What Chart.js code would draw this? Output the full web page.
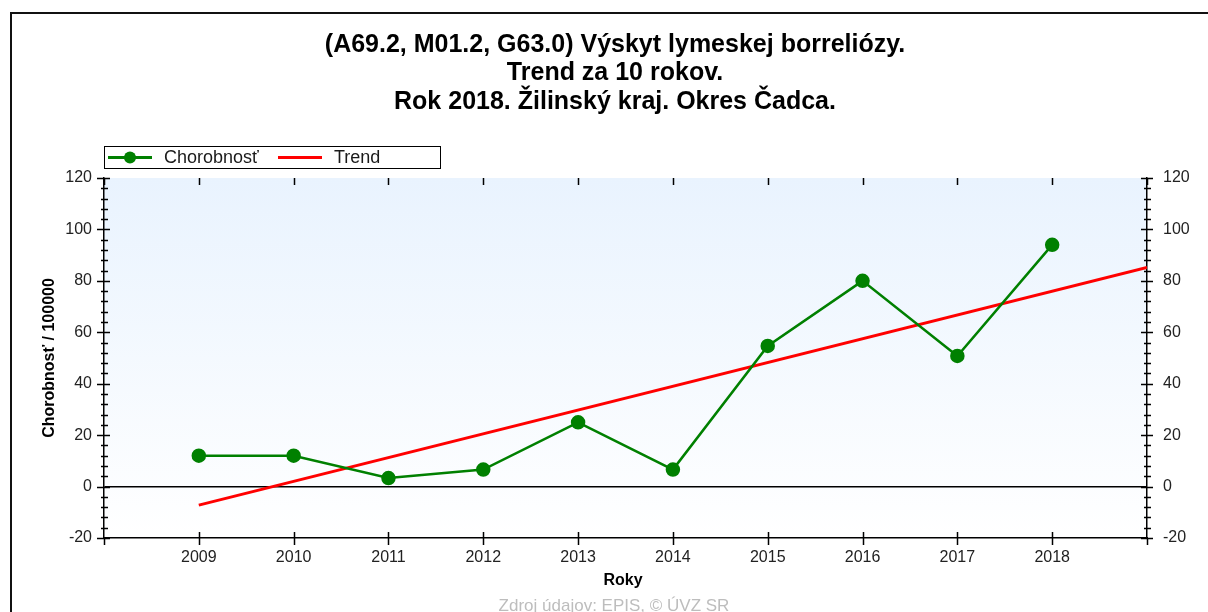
<!DOCTYPE html>
<html>
<head>
<meta charset="utf-8">
<script src="https://cdn.jsdelivr.net/npm/chart.js@4"></script>
<style>
  html, body { margin: 0; padding: 0; background: #fff; }
  #wrap { width: 1208px; height: 612px; position: relative; }
</style>
</head>
<body>
<div id="wrap"><canvas id="chart" width="1208" height="612"></canvas></div>
<script>
// ─────────────────────────────────────────────
// DATA
// ─────────────────────────────────────────────
const years       = [2009, 2010, 2011, 2012, 2013, 2014, 2015, 2016, 2017, 2018];
const morbidity   = [12, 12, 3.3, 6.6, 25, 6.6, 54.7, 80, 50.8, 94];
const trendYears  = [2009, 2019];
const trendValues = [-7.2, 85.2];

const titleLines = [
  '(A69.2, M01.2, G63.0) Výskyt lymeskej borreliózy.',
  'Trend za 10 rokov.',
  'Rok 2018. Žilinský kraj. Okres Čadca.'
];
const FONT = '"Liberation Sans", Arial, sans-serif';

// ─────────────────────────────────────────────
// PLUGINS (frame, title, legend, ticks, footer)
// ─────────────────────────────────────────────
const decor = {
  id: 'decor',
  beforeDraw(chart) {
    const { ctx, chartArea: a } = chart;
    ctx.save();
    ctx.fillStyle = '#fff';
    ctx.fillRect(0, 0, chart.width, chart.height);
    // frame
    ctx.strokeStyle = '#111';
    ctx.lineWidth = 2;
    ctx.beginPath();
    ctx.moveTo(11, chart.height + 2);
    ctx.lineTo(11, 13);
    ctx.lineTo(chart.width + 2, 13);
    ctx.stroke();
    // plot background
    const g = ctx.createLinearGradient(0, a.top, 0, a.bottom);
    g.addColorStop(0, '#e9f3fe');
    g.addColorStop(1, '#ffffff');
    ctx.fillStyle = g;
    ctx.fillRect(a.left, a.top, a.right - a.left, a.bottom - a.top);
    // title
    ctx.fillStyle = '#000';
    ctx.font = 'bold 25px ' + FONT;
    ctx.textAlign = 'center';
    ctx.textBaseline = 'middle';
    titleLines.forEach((t, i) => ctx.fillText(t, 615, 45 + i * 28.5));
    ctx.restore();
  },
  afterDraw(chart) {
    const { ctx, chartArea: a, scales } = chart;
    ctx.save();
    ctx.strokeStyle = '#000';
    ctx.lineWidth = 1.5;
    // y minor/major ticks on both sides
    const y = scales.y;
    for (let v = -20; v <= 120; v += 4) {
      const py = Math.round(y.getPixelForValue(v)) + 0.5;
      const major = v % 20 === 0;
      ctx.beginPath();
      ctx.moveTo(a.left - (major ? 7 : 3), py);
      ctx.lineTo(a.left + (major ? 6 : 4), py);
      ctx.moveTo(a.right - (major ? 6 : 3), py);
      ctx.lineTo(a.right + (major ? 6 : 4), py);
      ctx.stroke();
    }
    // x ticks bottom and top
    const x = scales.x;
    for (let v = 2008; v <= 2019; v++) {
      const px = Math.round(x.getPixelForValue(v)) + 0.5;
      const edge = v === 2008 || v === 2019;
      ctx.beginPath();
      ctx.moveTo(px, a.bottom - (edge ? 0 : 6));
      ctx.lineTo(px, a.bottom + 7);
      ctx.moveTo(px, a.top);
      ctx.lineTo(px, a.top + 7);
      ctx.stroke();
    }
    // legend
    ctx.lineWidth = 1;
    ctx.strokeRect(104.5, 146.5, 336, 22);
    ctx.font = '18px ' + FONT;
    ctx.textAlign = 'left';
    ctx.textBaseline = 'middle';
    const ds = chart.data.datasets;
    const items = [{ d: ds[0], x: 108, tx: 164 }, { d: ds[1], x: 278, tx: 334 }];
    items.forEach(it => {
      ctx.strokeStyle = it.d.borderColor;
      ctx.lineWidth = 3;
      ctx.beginPath();
      ctx.moveTo(it.x, 157.5);
      ctx.lineTo(it.x + 44, 157.5);
      ctx.stroke();
      if (it.d.pointRadius > 0) {
        ctx.fillStyle = it.d.pointBackgroundColor;
        ctx.beginPath();
        ctx.arc(it.x + 22, 157.5, 6, 0, Math.PI * 2);
        ctx.fill();
      }
      ctx.fillStyle = '#1a1a1a';
      ctx.fillText(it.d.label, it.tx, 158);
    });
    // x axis title
    ctx.fillStyle = '#000';
    ctx.font = 'bold 16px ' + FONT;
    ctx.textAlign = 'center';
    ctx.fillText('Roky', 623, 581);
    // footer
    ctx.fillStyle = '#bdbdbd';
    ctx.font = '17px ' + FONT;
    ctx.fillText('Zdroj údajov: EPIS, © ÚVZ SR', 614, 606);
    ctx.restore();
  }
};

// ─────────────────────────────────────────────
// CHART
// ─────────────────────────────────────────────
const tickColor = '#222';

new Chart(document.getElementById('chart'), {
  type: 'line',
  data: {
    datasets: [
      {
        label: 'Chorobnosť',
        data: years.map((yr, i) => ({ x: yr, y: morbidity[i] })),
        borderColor: '#008000',
        backgroundColor: '#008000',
        pointBackgroundColor: '#008000',
        pointBorderColor: '#008000',
        borderWidth: 2.5,
        pointRadius: 6,
        tension: 0
      },
      {
        label: 'Trend',
        data: trendYears.map((yr, i) => ({ x: yr, y: trendValues[i] })),
        borderColor: '#ff0000',
        backgroundColor: '#ff0000',
        borderWidth: 3,
        pointRadius: 0,
        tension: 0
      }
    ]
  },
  options: {
    responsive: false,
    animation: false,
    layout: { padding: { top: 178, left: 36, right: 0, bottom: 0 } },
    plugins: { legend: { display: false }, title: { display: false }, tooltip: { enabled: false } },
    scales: {
      x: {
        type: 'linear',
        min: 2008,
        max: 2019,
        afterBuildTicks: s => { s.ticks = years.map(v => ({ value: v })); },
        ticks: { callback: v => String(v), color: tickColor, font: { family: FONT, size: 16 }, padding: 2, maxRotation: 0, autoSkip: false },
        grid: { display: false },
        border: { color: '#000', width: 1.5 },
        afterFit: s => { s.height = 612 - 538; }
      },
      y: {
        position: 'left',
        min: -20,
        max: 120,
        ticks: { stepSize: 20, color: tickColor, font: { family: FONT, size: 16 }, padding: 12 },
        grid: {
          drawTicks: false,
          color: ctx => ctx.tick && ctx.tick.value === 0 ? '#000' : 'rgba(0,0,0,0)',
          lineWidth: 1.5
        },
        border: { color: '#000', width: 1.5 },
        title: { display: true, text: 'Chorobnosť / 100000', color: '#000', font: { family: FONT, size: 16, weight: 'bold' }, padding: { bottom: 12 } },
        afterFit: s => { s.width = 104 - 36; }
      },
      y2: {
        position: 'right',
        min: -20,
        max: 120,
        ticks: { stepSize: 20, color: tickColor, font: { family: FONT, size: 16 }, padding: 16 },
        grid: { display: false, drawTicks: false },
        border: { color: '#000', width: 1.5 },
        afterFit: s => { s.width = 1208 - 1147; }
      }
    }
  },
  plugins: [decor]
});
</script>
</body>
</html>
